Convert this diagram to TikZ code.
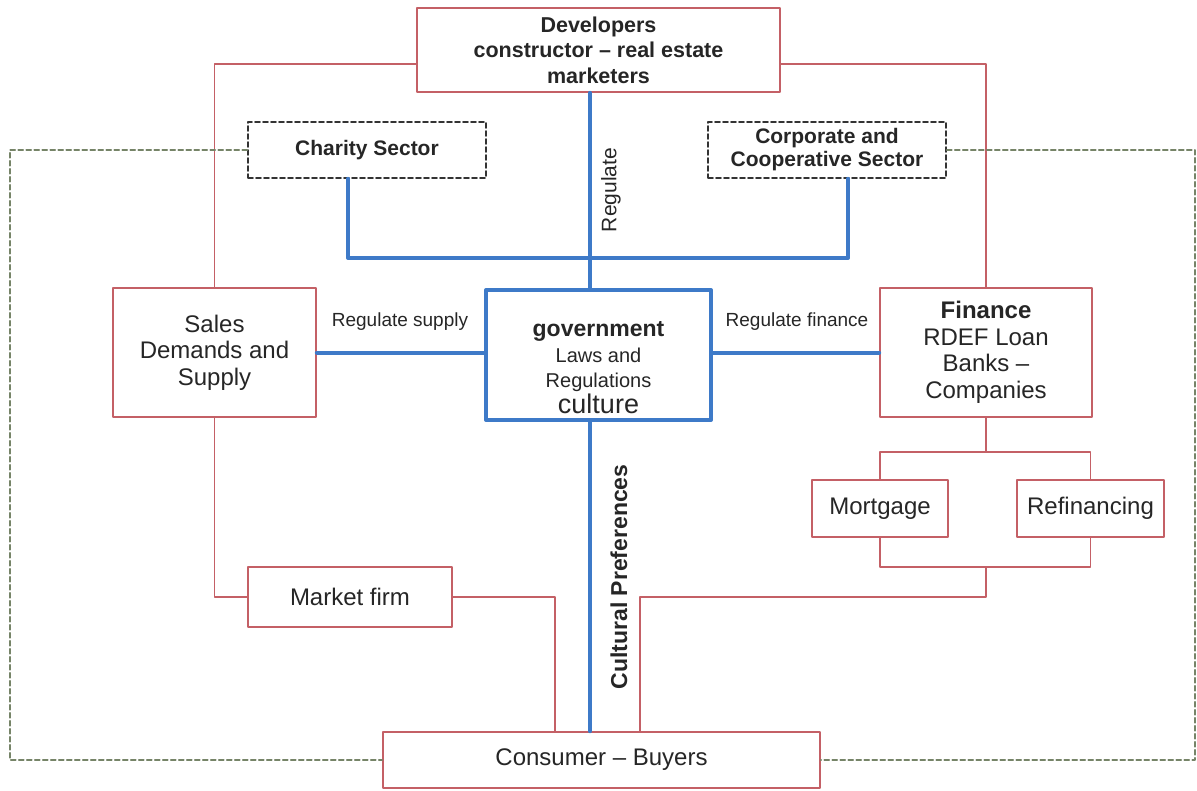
\documentclass[tikz,border=0pt]{standalone}
\usepackage{fontspec}
\setmainfont{Liberation Sans}
\usetikzlibrary{arrows}
\definecolor{boxred}{RGB}{196,96,102}
\definecolor{govblue}{RGB}{62,122,200}
\definecolor{dashgreen}{RGB}{118,132,104}
\definecolor{txt}{RGB}{38,38,38}

\begin{document}
\begin{tikzpicture}[line cap=round,line join=round,x=1pt,y=-1pt,
	redbox/.style={draw=boxred,line width=1.6pt,fill=white,align=center,text=txt,inner sep=0pt,font=\fontsize{24}{26.5}\selectfont},
	dashbox/.style={draw=black!80,line width=1.6pt,dash pattern=on 5pt off 3pt,fill=white,align=center,text=txt,inner sep=0pt,font=\bfseries\fontsize{21}{23}\selectfont},
	govbox/.style={draw=govblue,line width=4pt,fill=white,align=center,text=txt,inner sep=0pt,font=\fontsize{22}{25.5}\selectfont},
	redline/.style={draw=boxred,line width=1.6pt},
	blueline/.style={draw=govblue,line width=4pt},
	greenline/.style={draw=dashgreen,line width=1.6pt,dash pattern=on 5pt off 3pt},
	lab/.style={text=txt,inner sep=0pt,font=\fontsize{19}{22}\selectfont}]
\useasboundingbox (0,0) rectangle (1197,790);
			%boites
			\node[redbox,minimum width=363pt,minimum height=84pt,font=\bfseries\fontsize{21.5}{25.5}\selectfont] (dev) at (598.5,50) {Developers\\constructor -- real estate\\marketers};
			\node[dashbox,minimum width=238pt,minimum height=56pt] (charity) at (367,150) {Charity Sector};
			\node[dashbox,minimum width=238pt,minimum height=56pt] (corp) at (827,150) {Corporate and\\Cooperative Sector};
			\node[redbox,minimum width=203pt,minimum height=129pt] (sales) at (214.5,352.5) {Sales\\Demands and\\Supply};
			\node[govbox,minimum width=225pt,minimum height=130pt] (gov) at (598.5,355) {\rule{0pt}{40pt}{\bfseries\fontsize{23}{26}\selectfont government}\\{\fontsize{20}{25}\selectfont Laws and}\\{\fontsize{20}{25}\selectfont Regulations}\\{\fontsize{27}{26}\selectfont culture}};
			\node[redbox,minimum width=212pt,minimum height=129pt] (fin) at (986,352.5) {\textbf{Finance}\\RDEF Loan\\Banks --\\Companies};
			\node[redbox,minimum width=136pt,minimum height=57pt] (mort) at (880,508.5) {Mortgage};
			\node[redbox,minimum width=147pt,minimum height=57pt] (refi) at (1090.5,508.5) {Refinancing};
			\node[redbox,minimum width=204pt,minimum height=60pt] (market) at (350,597) {Market firm};
			\node[redbox,minimum width=437pt,minimum height=56pt] (cons) at (601.5,760) {Consumer -- Buyers};
			%liaisons rouges
			\draw[redline] (dev.west |- 0,64) -| (sales.north);
			\draw[redline] (dev.east |- 0,64) -| (fin.north);
			\draw[redline] (fin.south) -- (fin.south |- 0,452);
			\draw[redline] (mort.north) -- (mort.north |- 0,452) -| (refi.north);
			\draw[redline] (mort.south) -- (mort.south |- 0,567) -| (refi.south);
			\draw[redline] (fin.south |- 0,567) |- (640,597) -- (cons.north -| 640,0);
			\draw[redline] (sales.south) |- (market.west);
			\draw[redline] (market.east) -| (cons.north -| 555,0);
			%liaisons bleues
			\draw[blueline] (dev.south -| 590,0) -- (gov.north -| 590,0);
			\draw[blueline] (charity.south -| 348,0) |- (590,258) -| (corp.south -| 848,0);
			\draw[blueline] (sales.east) -- (sales.east -| gov.west);
			\draw[blueline] (gov.east |- fin.west) -- (fin.west);
			\draw[blueline] (gov.south -| 590,0) -- (cons.north -| 590,0);
			%pointilles
			\draw[greenline] (charity.west) -| (10,760) -- (cons.west);
			\draw[greenline] (corp.east) -| (1195,760) -- (cons.east);
			%etiquettes
			\node[lab,rotate=90,font=\fontsize{21}{23}\selectfont] (regdev) at (611,190) {Regulate};
			\node[lab] (regsup) at (400,322) {Regulate supply};
			\node[lab] (regfin) at (797,322) {Regulate finance};
			\node[lab,rotate=90,font=\bfseries\fontsize{23}{25}\selectfont] (culpref) at (619,577) {Cultural Preferences};
\end{tikzpicture}
\end{document}
